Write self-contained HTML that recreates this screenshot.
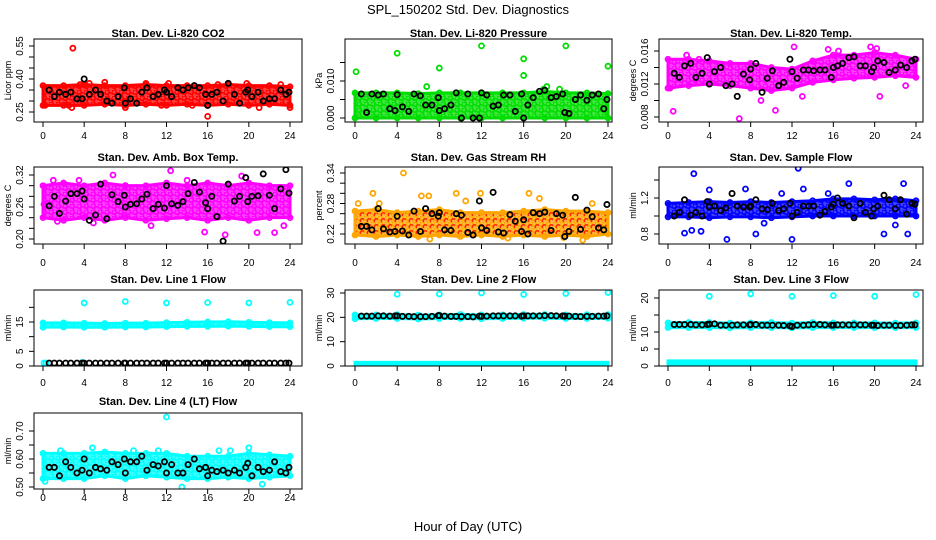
<!DOCTYPE html>
<html><head><meta charset="utf-8">
<style>
html,body{margin:0;padding:0;background:#fff;}
svg{display:block;font-family:"Liberation Sans",sans-serif;}
</style></head>
<body>
<svg id="chart" width="936" height="540" viewBox="0 0 936 540" xmlns="http://www.w3.org/2000/svg">
<rect width="936" height="540" fill="#fff"/>
<defs id="defs"></defs>
<text x="468" y="14" font-size="13" text-anchor="middle">SPL_150202  Std. Dev. Diagnostics</text>
<text x="468" y="531" font-size="13" text-anchor="middle">Hour of Day (UTC)</text>
</svg>
<script>
// ---- shared data ----
const blackHours = [0.6,1.1,1.6,2.2,2.7,3.3,3.8,4.0,4.5,5.1,5.6,6.2,6.7,7.3,7.9,8.0,8.5,9.1,9.6,10.1,10.7,11.2,11.8,12.0,12.5,13.1,13.6,14.1,14.7,15.2,15.8,16.0,16.4,16.9,17.5,18.0,18.6,19.1,19.7,19.9,20.3,20.9,21.4,22.0,22.5,23.1,23.6,23.9];
const bandHours = [0,2,4,6,8,10,12,14,16,18,20,22,24];
const xTickLabels = [0,4,8,12,16,20,24];

// CO2
const co2BandLo = [0.28,0.28,0.28,0.285,0.28,0.285,0.28,0.285,0.28,0.285,0.28,0.285,0.28];
const co2BandHi = [0.37,0.37,0.375,0.37,0.37,0.375,0.37,0.37,0.37,0.375,0.37,0.37,0.365];
const co2PtsH = [2.9,16,2.8,24,4.5,12.2,8,2.5,0.2,6,10,11.5,17,19.8,23.1,14.5,21,3.6];
const co2PtsV = [0.54,0.23,0.27,0.27,0.38,0.38,0.27,0.28,0.28,0.385,0.38,0.28,0.375,0.38,0.375,0.28,0.27,0.375];
const co2Black = [0.35,0.32,0.34,0.33,0.34,0.31,0.31,0.40,0.33,0.35,0.33,0.30,0.29,0.32,0.36,0.29,0.31,0.29,0.34,0.36,0.32,0.33,0.35,0.34,0.32,0.36,0.35,0.36,0.37,0.36,0.33,0.28,0.33,0.34,0.30,0.38,0.33,0.29,0.34,0.35,0.32,0.34,0.30,0.31,0.31,0.35,0.33,0.34];
// Pressure
const prBandLo = [0,0,0,0,0,0,0,0,0,0,0,0,0];
const prBandHi = [0.0068,0.0068,0.0068,0.0066,0.0068,0.0068,0.0068,0.0068,0.0068,0.0072,0.0068,0.0068,0.0066];
const prPtsH = [0.1,4,12,20,8,16,16,24,6.8,17.9,18.2,19.4];
const prPtsV = [0.0125,0.0175,0.0195,0.0195,0.0135,0.016,0.0115,0.014,0.0085,0.0078,0.0085,0.0078];
const prBlack = [0.0065,0.0015,0.0065,0.0062,0.0065,0.0025,0.002,0.0063,0.003,0.0018,0.0065,0.006,0.0035,0.0035,0.0055,0.002,0.0025,0.0035,0.0068,0.0,0.0065,0.0,0.0,0.0068,0.0062,0.0032,0.0035,0.0062,0.0062,0.0018,0.0065,0.0,0.0035,0.0055,0.0072,0.0075,0.0055,0.0058,0.0065,0.0015,0.0012,0.005,0.0062,0.0048,0.0062,0.0065,0.0025,0.005];
// Li-820 temp
const ltBandLo = [0.0115,0.0118,0.0120,0.0118,0.0115,0.0112,0.0115,0.0122,0.0125,0.0127,0.0128,0.0130,0.0128];
const ltBandHi = [0.0150,0.0150,0.0148,0.0145,0.0145,0.0140,0.0138,0.0148,0.0155,0.0155,0.0158,0.0155,0.0150];
const ltPtsH = [0.5,6.9,10.4,12.2,15.5,19.6,20.2,20.5,1.8,9,13,16.5,0.2,3,23];
const ltPtsV = [0.0087,0.0078,0.0088,0.0165,0.0162,0.0165,0.0163,0.0105,0.0155,0.0100,0.0105,0.0160,0.0115,0.0150,0.0118];
const ltBlack = [0.0133,0.0128,0.0142,0.0145,0.0128,0.0133,0.0152,0.0120,0.0135,0.0140,0.0118,0.0120,0.0105,0.0132,0.0125,0.0138,0.0145,0.0110,0.0127,0.0136,0.0118,0.0122,0.0150,0.0135,0.0127,0.0137,0.0137,0.0136,0.0137,0.0137,0.0128,0.0140,0.0142,0.0145,0.0152,0.0153,0.0142,0.0142,0.0135,0.0140,0.0148,0.0146,0.0134,0.0137,0.0143,0.0140,0.0148,0.0150];
// Amb box temp
const abBandLo = [0.240,0.235,0.240,0.235,0.240,0.235,0.238,0.240,0.235,0.240,0.235,0.240,0.240];
const abBandHi = [0.300,0.305,0.300,0.305,0.300,0.300,0.305,0.300,0.305,0.300,0.305,0.300,0.300];
const abPtsH = [0.1,1.4,6.8,12.4,15.7,17.7,19.3,20.8,22.5,23.4,8,4.9,1,3.5,10.5,14];
const abPtsV = [0.265,0.233,0.320,0.328,0.213,0.208,0.318,0.212,0.212,0.225,0.300,0.230,0.310,0.310,0.225,0.310];
const abBlack = [0.262,0.280,0.248,0.271,0.285,0.285,0.290,0.275,0.235,0.245,0.303,0.238,0.283,0.270,0.282,0.260,0.265,0.266,0.275,0.284,0.257,0.265,0.258,0.300,0.266,0.263,0.270,0.285,0.306,0.288,0.268,0.257,0.280,0.242,0.196,0.303,0.271,0.280,0.315,0.270,0.280,0.281,0.322,0.282,0.257,0.294,0.330,0.286];
// Gas stream RH
const rhBandLo = [0.218,0.215,0.218,0.215,0.218,0.215,0.218,0.215,0.218,0.215,0.218,0.215,0.22];
const rhBandHi = [0.265,0.268,0.262,0.265,0.268,0.262,0.262,0.262,0.265,0.268,0.265,0.265,0.262];
const rhPtsH = [4.6,1.7,9.6,16.5,6.3,7,11.9,0.3,7.1,21.6,19.8,14.5,17.5,2.3,10.5,22.5];
const rhPtsV = [0.340,0.300,0.300,0.300,0.295,0.295,0.300,0.280,0.210,0.208,0.213,0.212,0.290,0.280,0.285,0.280];
const rhBlack = [0.235,0.235,0.228,0.270,0.230,0.224,0.225,0.255,0.226,0.218,0.265,0.225,0.270,0.260,0.255,0.262,0.228,0.227,0.260,0.257,0.223,0.218,0.285,0.232,0.227,0.302,0.224,0.222,0.258,0.245,0.225,0.248,0.220,0.262,0.260,0.263,0.227,0.260,0.257,0.215,0.225,0.292,0.229,0.267,0.254,0.232,0.228,0.278];
// Sample flow
const sfBandLo = [0.99,0.99,0.98,0.99,0.99,0.98,0.99,1.0,1.0,1.0,1.0,1.0,1.0];
const sfBandHi = [1.14,1.15,1.16,1.15,1.16,1.15,1.16,1.17,1.19,1.19,1.18,1.19,1.17];
const sfPtsH = [2.5,12.6,5.7,12,1.6,2.3,3.2,8.5,20.9,23.2,17.5,22.8,13.1,4,9.3,22,7.5,11,15.5];
const sfPtsV = [1.47,1.53,0.74,0.74,0.81,0.84,0.83,0.80,0.80,0.80,1.36,1.36,1.30,1.29,0.92,0.90,1.30,1.25,1.25];
const sfBlack = [1.00,1.04,1.18,1.01,1.04,1.00,1.16,1.10,1.11,1.06,1.09,1.25,1.11,1.10,1.10,1.11,1.18,1.08,1.07,1.14,1.06,1.08,1.14,1.00,1.04,1.11,1.11,1.11,1.01,1.05,1.10,1.13,1.20,1.14,1.11,0.98,1.14,1.04,1.00,1.08,1.11,1.23,1.18,1.08,1.18,1.02,1.14,1.13];
// Line 1
const l1BandLo = [13.2,13.3,13.2,13.2,13.3,13.3,13.4,13.5,13.5,13.6,13.5,13.4,13.4];
const l1BandHi = [14.7,14.7,14.6,14.5,14.6,14.6,14.8,14.9,15.0,15.1,14.9,14.8,14.7];
const l1PtsH = [4,8,12,16,20,24,0.1,0.3,3.8];
const l1PtsV = [21.5,22,21.5,21.6,21.5,21.7,1,1,1.2];
const l1Black = [1,1,1,1,1,1,1,1,1,1,1,1,1,1,1,1,1,1,1,1,1,1,1,1,1,1,1,1,1,1,1,1,1,1,1,1,1,1,1,1,1,1,1,1,1,1,1,1];
// Line 2
const l2BandLo = [19.4,19.5,19.5,19.3,19.5,19.5,19.4,19.5,19.6,19.6,19.5,19.5,19.6];
const l2BandHi = [21.0,21.0,21.1,20.9,21.0,21.2,21.0,21.0,21.2,21.2,21.0,21.1,21.1];
const l2Low = [0.5,1.5];
const l2PtsH = [4,8,12,16,20,24];
const l2PtsV = [29.5,29.6,30,29.4,29.8,30.2];
const l2Black = [20.5,20.5,20.5,20.6,20.6,20.5,20.6,20.6,20.4,20.4,20.3,20.3,20.3,20.4,20.7,20.7,20.5,20.4,20.4,20.3,20.3,20.2,20.5,20.4,20.5,20.6,20.6,20.6,20.6,20.6,20.5,20.6,20.6,20.6,20.6,20.7,20.7,20.6,20.6,20.5,20.5,20.4,20.3,20.4,20.4,20.5,20.5,20.6];
// Line 3
const l3BandLo = [11.3,11.3,11.3,11.2,11.3,11.3,11.2,11.3,11.3,11.3,11.3,11.3,11.3];
const l3BandHi = [12.7,12.8,12.8,12.6,12.7,12.8,12.6,12.8,12.7,12.7,12.7,12.6,12.7];
const l3Low = [0.5,1.5];
const l3PtsH = [4,8,12,16,20,24];
const l3PtsV = [20.5,21.2,20.5,20.7,20.5,21.0];
const l3Black = [12.2,12.2,12.2,12.2,12.1,12.1,12.2,12.3,12.4,12.0,12.0,12.0,12.1,12.1,12.1,12.2,12.2,12.0,12.0,12.0,12.0,11.9,11.8,11.6,12.0,12.0,12.1,12.2,12.2,12.1,12.0,12.0,12.1,12.1,12.1,12.1,12.1,12.1,12.0,12.0,11.9,12.0,12.0,11.9,11.9,12.0,12.1,12.1];
// Line 4
const l4BandLo = [0.53,0.53,0.53,0.54,0.53,0.54,0.535,0.53,0.53,0.535,0.53,0.535,0.54];
const l4BandHi = [0.62,0.62,0.62,0.625,0.62,0.62,0.62,0.61,0.61,0.61,0.62,0.615,0.61];
const l4PtsH = [12,0.2,21.3,13.5,20,4.8,8.8,1.7,11.2,17.1,18.2];
const l4PtsV = [0.75,0.52,0.51,0.50,0.64,0.64,0.63,0.63,0.63,0.63,0.63];
const l4Black = [0.57,0.57,0.54,0.59,0.57,0.55,0.56,0.60,0.55,0.57,0.565,0.56,0.59,0.58,0.60,0.55,0.59,0.59,0.61,0.56,0.58,0.575,0.59,0.55,0.58,0.55,0.55,0.58,0.60,0.565,0.57,0.54,0.56,0.555,0.56,0.55,0.56,0.55,0.57,0.585,0.54,0.57,0.555,0.56,0.59,0.555,0.55,0.57];

const NS = "http://www.w3.org/2000/svg";
const svg = document.getElementById('chart');
const defs = document.getElementById('defs');
function mk(tag, attrs, parent) {
  const e = document.createElementNS(NS, tag);
  for (const k in attrs) e.setAttribute(k, attrs[k]);
  (parent || svg).appendChild(e);
  return e;
}
const cols = [{bx0:34,bx1:302,px0:43,px24:290},{bx0:345,bx1:612,px0:355,px24:608},{bx0:659,bx1:923,px0:668,px24:916}];
const rows = [{by0:39,by1:122,title:37,xl:139},{by0:167,by1:244,title:161,xl:266},{by0:290,by1:366,title:283,xl:386},{by0:413,by1:489,title:405,xl:501}];

const panels = [
 {id:'co2',title:'Stan. Dev. Li-820 CO2',ylab:'Licor ppm',r:0,c:0,color:'#ff0000',a:[0.25,112,0.55,46],ticks:[0.25,0.30,0.35,0.40,0.45,0.50,0.55],lab:['0.25','0.40','0.55'],labV:[0.25,0.40,0.55],lo:co2BandLo,hi:co2BandHi,ph:co2PtsH,pv:co2PtsV,bk:co2Black},
 {id:'pressure',title:'Stan. Dev. Li-820 Pressure',ylab:'kPa',r:0,c:1,color:'#00dd00',a:[0,118,0.01,81],ticks:[0,0.005,0.010,0.015],lab:['0.000','0.010'],labV:[0,0.01],lo:prBandLo,hi:prBandHi,ph:prPtsH,pv:prPtsV,bk:prBlack},
 {id:'li820-temp',title:'Stan. Dev. Li-820 Temp.',ylab:'degrees C',r:0,c:2,color:'#ff00ff',a:[0.008,117,0.016,51],ticks:[0.008,0.010,0.012,0.014,0.016],lab:['0.008','0.012','0.016'],labV:[0.008,0.012,0.016],lo:ltBandLo,hi:ltBandHi,ph:ltPtsH,pv:ltPtsV,bk:ltBlack},
 {id:'amb-box-temp',title:'Stan. Dev. Amb. Box Temp.',ylab:'degrees C',r:1,c:0,color:'#ff00ff',a:[0.20,239,0.32,175],ticks:[0.20,0.22,0.24,0.26,0.28,0.30,0.32],lab:['0.20','0.26','0.32'],labV:[0.20,0.26,0.32],lo:abBandLo,hi:abBandHi,ph:abPtsH,pv:abPtsV,bk:abBlack},
 {id:'gas-stream-rh',title:'Stan. Dev. Gas Stream RH',ylab:'percent',r:1,c:1,color:'#ffa500',a:[0.22,234,0.34,173],ticks:[0.22,0.24,0.26,0.28,0.30,0.32,0.34],lab:['0.22','0.28','0.34'],labV:[0.22,0.28,0.34],lo:rhBandLo,hi:rhBandHi,ph:rhPtsH,pv:rhPtsV,bk:rhBlack,speckle:'#ff2200'},
 {id:'sample-flow',title:'Stan. Dev. Sample Flow',ylab:'ml/min',r:1,c:2,color:'#0000ff',a:[0.8,234,1.2,198],ticks:[0.8,1.0,1.2,1.4],lab:['0.8','1.2'],labV:[0.8,1.2],lo:sfBandLo,hi:sfBandHi,ph:sfPtsH,pv:sfPtsV,bk:sfBlack},
 {id:'line1-flow',title:'Stan. Dev. Line 1 Flow',ylab:'ml/min',r:2,c:0,color:'#00ffff',a:[0,366,15,322],ticks:[0,5,10,15,20],lab:['0','5','15'],labV:[0,5,15],lo:l1BandLo,hi:l1BandHi,ph:l1PtsH,pv:l1PtsV,bk:l1Black},
 {id:'line2-flow',title:'Stan. Dev. Line 2 Flow',ylab:'ml/min',r:2,c:1,color:'#00ffff',a:[0,366,30,293],ticks:[0,10,20,30],lab:['0','10','20','30'],labV:[0,10,20,30],lo:l2BandLo,hi:l2BandHi,low:l2Low,ph:l2PtsH,pv:l2PtsV,bk:l2Black},
 {id:'line3-flow',title:'Stan. Dev. Line 3 Flow',ylab:'ml/min',r:2,c:2,color:'#00ffff',a:[0,366,20,298],ticks:[0,5,10,15,20],lab:['0','5','10','20'],labV:[0,5,10,20],lo:l3BandLo,hi:l3BandHi,low:l3Low,ph:l3PtsH,pv:l3PtsV,bk:l3Black},
 {id:'line4-flow',title:'Stan. Dev. Line 4 (LT) Flow',ylab:'ml/min',r:3,c:0,color:'#00ffff',a:[0.50,487,0.70,431],ticks:[0.50,0.55,0.60,0.65,0.70],lab:['0.50','0.60','0.70'],labV:[0.50,0.60,0.70],lo:l4BandLo,hi:l4BandHi,ph:l4PtsH,pv:l4PtsV,bk:l4Black}
];

panels.forEach(p => {
  const C = cols[p.c], R = rows[p.r];
  const xs = h => C.px0 + h * (C.px24 - C.px0) / 24;
  const ys = v => p.a[1] + (v - p.a[0]) * (p.a[3] - p.a[1]) / (p.a[2] - p.a[0]);
  const pat = mk('pattern', {id:'pat-'+p.id, width:7, height:6, patternUnits:'userSpaceOnUse'}, defs);
  mk('rect', {x:0, y:0, width:7, height:6, fill:p.color, 'fill-opacity':0.75}, pat);
  mk('circle', {cx:2, cy:2, r:2.2, fill:'none', stroke:p.color, 'stroke-width':1.6}, pat);
  mk('circle', {cx:5.5, cy:5, r:2.2, fill:'none', stroke:p.speckle || p.color, 'stroke-width':1.5}, pat);
  const g = mk('g', {});
  
  
  const t = mk('text', {x:(C.bx0+C.bx1)/2, y:R.title, 'font-size':11, 'font-weight':'bold', 'text-anchor':'middle'}, g);
  t.textContent = p.title;
  
  
  const cp = mk('clipPath', {id:'cp-'+p.id}, g);
  mk('rect', {x:C.bx0, y:R.by0, width:C.bx1-C.bx0, height:R.by1-R.by0}, cp);
  const pg = mk('g', {'clip-path':'url(#cp-'+p.id+')'}, g);
  const up = bandHours.map((h,i)=>xs(h)+','+ys(p.hi[i]));
  const dn = bandHours.map((h,i)=>xs(h)+','+ys(p.lo[i])).reverse();
  const band = mk('polygon', {points: up.concat(dn).join(' '), fill:'url(#pat-'+p.id+')', stroke:p.color, 'stroke-width':3}, pg);
  
  
  if (p.low) {
    const lb = mk('rect', {x:xs(0), y:ys(p.low[1]), width:xs(24)-xs(0), height:ys(p.low[0])-ys(p.low[1])+1, fill:p.color, stroke:p.color, 'stroke-width':3}, pg);
    
    
  }
  bandHours.forEach((h,i)=>{
    [p.lo[i], p.hi[i]].forEach(v=>{
      const e = mk('circle', {cx:xs(h), cy:ys(v), r:2.5, fill:'none', stroke:p.color, 'stroke-width':1.7}, pg);
      
      
    });
  });
  p.ph.forEach((h,i)=>{
    const c = mk('circle', {cx:xs(h), cy:ys(p.pv[i]), r:2.5, fill:'none', stroke:p.color, 'stroke-width':1.8}, pg);
    
    
  });
  p.bk.forEach((v,i)=>{
    const c = mk('circle', {cx:xs(blackHours[i]), cy:ys(v), r:2.6, fill:'none', stroke:'#000', 'stroke-width':1.8}, pg);
    
    
  });
  mk('rect', {x:C.bx0, y:R.by0, width:C.bx1-C.bx0, height:R.by1-R.by0, fill:'none', stroke:'#000', 'stroke-width':1}, g);
  xTickLabels.forEach(h=>{
    mk('line', {x1:xs(h), x2:xs(h), y1:R.by1, y2:R.by1+5, stroke:'#000'}, g);
    const tl = mk('text', {x:xs(h), y:R.xl, 'font-size':10, 'text-anchor':'middle'}, g);
    tl.textContent = h;
    
    
  });
  p.ticks.forEach(v=>{
    const y = ys(v);
    if (y < R.by0 - 1 || y > R.by1 + 1) return;
    mk('line', {x1:C.bx0-5, x2:C.bx0, y1:y, y2:y, stroke:'#000'}, g);
  });
  p.lab.forEach((s,i)=>{
    const y = ys(p.labV[i]);
    const x = C.bx0 - 11;
    const tl = mk('text', {x:x, y:y, 'font-size':10, 'text-anchor':'middle', transform:'rotate(-90 '+x+' '+y+')'}, g);
    tl.textContent = s;
    
    
  });
  const lx = C.bx0 - 23, ly = (R.by0+R.by1)/2;
  const yl = mk('text', {x:lx, y:ly, 'font-size':9, 'text-anchor':'middle', transform:'rotate(-90 '+lx+' '+ly+')'}, g);
  yl.textContent = p.ylab;
  
  
});
</script>
</body></html>
